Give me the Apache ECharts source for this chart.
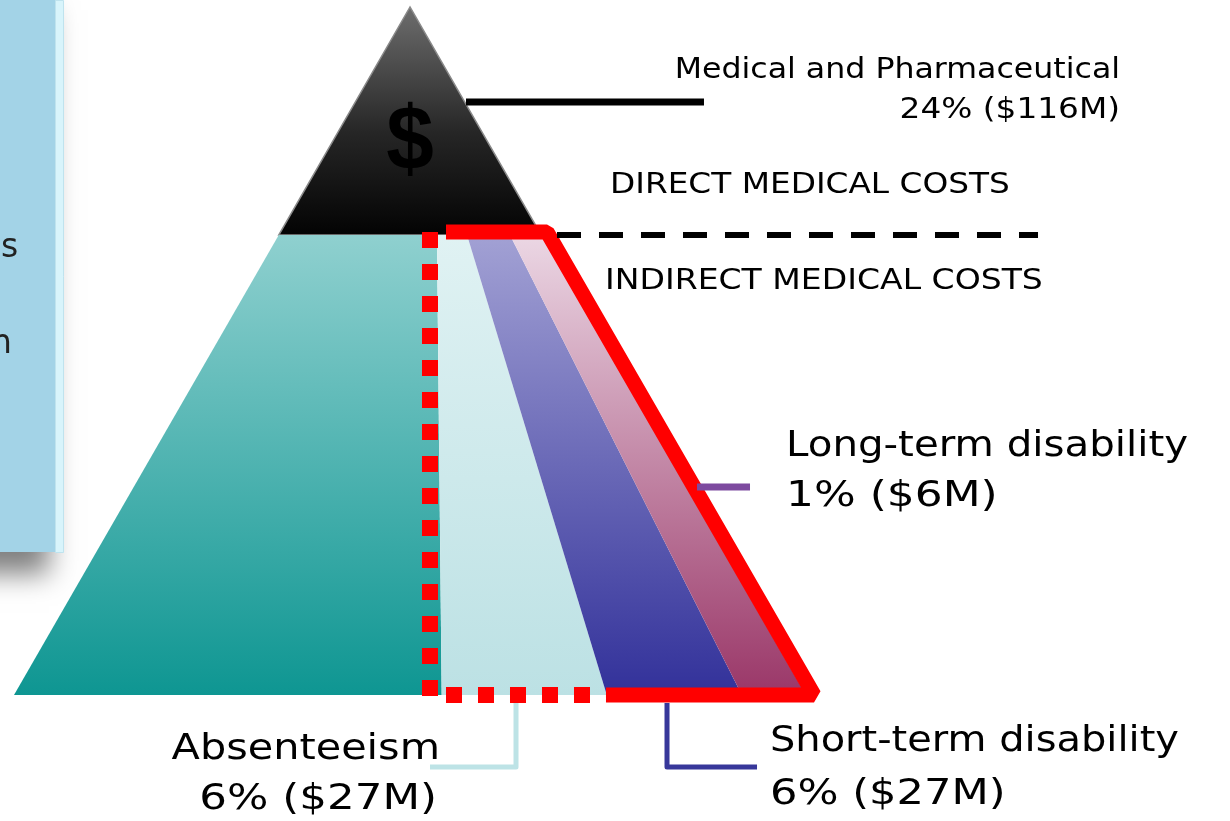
<!DOCTYPE html>
<html>
<head>
<meta charset="utf-8">
<script src="https://cdn.jsdelivr.net/npm/echarts@6/dist/echarts.min.js"></script>
<style>
html,body{margin:0;padding:0;background:#fff;}
#chart{width:1230px;height:821px;}
</style>
</head>
<body>
<div id="chart"></div>
<script>
// ---- data ----
const categories = ['Medical and Pharmaceutical', 'Long-term disability', 'Short-term disability', 'Absenteeism'];
const percents = [24, 1, 6, 6];
const amountsM = [116, 6, 27, 27];
const tierLabels = ['DIRECT MEDICAL COSTS', 'INDIRECT MEDICAL COSTS'];
const symbolText = '$';

// ---- layout (pyramid units: apex (0,1), base -1..1 at y=0) ----
const splitY = 0.6686;
const segBottom = [-1, 0.080, 0.497, 0.838, 1];
const segTop = [-0.3314, 0.068, 0.144, 0.2525, 0.3314];
const segColors = [
  ['#8fd0cf', '#0e9692'],
  ['#e0f2f3', '#bce1e4'],
  ['#a2a1d4', '#32319a'],
  ['#ebd7e4', '#9a3768']
];

function fmt(i){ return percents[i] + '% ($' + amountsM[i] + 'M)'; }

const chart = echarts.init(document.getElementById('chart'));
const FONT = '"DejaVu Sans", Verdana, sans-serif';

function renderItem(params, api) {
  const c = (x, y) => api.coord([x, y]);
  const children = [];
  // top triangle
  children.push({
    type: 'polygon',
    shape: { points: [c(0, 1), c(segTop[0], splitY), c(segTop[4], splitY)] },
    style: {
      fill: new echarts.graphic.LinearGradient(0, 0, 0, 1, [
        { offset: 0, color: '#6e6e6e' }, { offset: 0.55, color: '#262626' }, { offset: 1, color: '#030303' }
      ]),
      stroke: '#8a8a8a', lineWidth: 1.5
    }
  });
  // lower segments
  for (let i = 0; i < 4; i++) {
    children.push({
      type: 'polygon',
      shape: { points: [c(segTop[i], splitY), c(segTop[i + 1], splitY), c(segBottom[i + 1], 0), c(segBottom[i], 0)] },
      style: {
        fill: new echarts.graphic.LinearGradient(0, 0, 0, 1, [
          { offset: 0, color: segColors[i][0] }, { offset: 1, color: segColors[i][1] }
        ])
      }
    });
  }
  // dollar sign
  const dp = c(0, 0.800);
  children.push({
    type: 'text',
    x: dp[0], y: dp[1], scaleX: 0.95,
    style: {
      text: symbolText, x: 0, y: 0, align: 'center', verticalAlign: 'middle',
      font: 'bold 90px "Liberation Sans", Arial, sans-serif', fill: '#000',
      textShadowColor: '#cfcfcf', textShadowOffsetX: 4, textShadowOffsetY: 3, textShadowBlur: 0
    }
  });
  // red outlines
  children.push({
    type: 'polyline',
    shape: { points: [c(0.0909, 0.673), c(0.346, 0.673), c(1.0202, 0), c(0.4949, 0)] },
    style: { stroke: '#ff0000', lineWidth: 15, fill: null, lineJoin: 'bevel' }
  });
  children.push({
    type: 'polyline',
    shape: { points: [c(0.0505, 0.673), c(0.0505, -0.0015)] },
    style: { stroke: '#ff0000', lineWidth: 16, fill: null, lineDash: [16, 16], lineCap: 'butt' }
  });
  children.push({
    type: 'polyline',
    shape: { points: [c(0.0909, 0), c(0.4949, 0)] },
    style: { stroke: '#ff0000', lineWidth: 16, fill: null, lineDash: [16, 16], lineCap: 'butt' }
  });
  // black dashed divider
  children.push({
    type: 'polyline',
    shape: { points: [c(0.3712, splitY), c(1.5859, splitY)] },
    style: { stroke: '#000', lineWidth: 6, fill: null, lineDash: [24, 18] }
  });
  // connectors
  const conns = [
    { pts: [[0.1414, 0.8619], [0.7424, 0.8619]], color: '#000', w: 7 },
    { pts: [[0.7247, 0.3023], [0.8586, 0.3023]], color: '#7d4a9f', w: 7 },
    { pts: [[0.649, -0.0116], [0.649, -0.1047], [0.8763, -0.1047]], color: '#37379a', w: 5 },
    { pts: [[0.2677, -0.0116], [0.2677, -0.1047], [0.0505, -0.1047]], color: '#bde3e6', w: 5 }
  ];
  conns.forEach(k => children.push({
    type: 'polyline',
    shape: { points: k.pts.map(p => c(p[0], p[1])) },
    style: { stroke: k.color, lineWidth: k.w, fill: null, lineJoin: 'round' }
  }));
  // texts
  const texts = [
    { t: categories[0], x: 1.793, y: 0.9084, a: 'right', s: 29, k: 1.09 },
    { t: fmt(0), x: 1.793, y: 0.8503, a: 'right', s: 29, k: 1.13 },
    { t: tierLabels[0], x: 0.505, y: 0.7413, a: 'left', s: 29, k: 1.13 },
    { t: tierLabels[1], x: 0.4924, y: 0.6017, a: 'left', s: 29, k: 1.14 },
    { t: categories[1], x: 0.9495, y: 0.3605, a: 'left', s: 36, k: 1.12 },
    { t: fmt(1), x: 0.9495, y: 0.2878, a: 'left', s: 36, k: 1.22 },
    { t: categories[2], x: 0.909, y: -0.0683, a: 'left', s: 36, k: 1.11 },
    { t: fmt(2), x: 0.909, y: -0.1453, a: 'left', s: 36, k: 1.2 },
    { t: categories[3], x: 0.0758, y: -0.0799, a: 'right', s: 36, k: 1.15 },
    { t: fmt(3), x: 0.0682, y: -0.1526, a: 'right', s: 36, k: 1.21 }
  ];
  texts.forEach(k => {
    const p = c(k.x, k.y);
    children.push({
      type: 'text',
      x: p[0], y: p[1], scaleX: k.k,
      style: { text: k.t, x: 0, y: 0, align: k.a, verticalAlign: 'middle', font: k.s + 'px ' + FONT, fill: '#000' }
    });
  });
  return { type: 'group', children: children };
}

chart.setOption({
  animation: false,
  backgroundColor: '#fff',
  grid: { left: 14, top: 7, width: 792, height: 688, show: false },
  xAxis: { type: 'value', min: -1, max: 1, show: false },
  yAxis: { type: 'value', min: 0, max: 1, show: false },
  graphic: [
    {
      type: 'rect', left: -20, top: -12, z: 10,
      shape: { width: 83, height: 564 },
      style: { fill: '#a3d3e7', shadowColor: 'rgba(0,0,0,0.5)', shadowBlur: 26, shadowOffsetX: -14, shadowOffsetY: 22 }
    },
    {
      type: 'rect', left: 55, top: 0, z: 11,
      shape: { width: 8, height: 552 },
      style: { fill: '#d8f4fb', stroke: '#bfe3ee', lineWidth: 1 }
    },
    {
      type: 'text', left: 1, top: 232, z: 12,
      style: { text: 's', font: '33px ' + FONT, fill: '#222' }
    },
    {
      type: 'text', left: -9, top: 328, z: 12,
      style: { text: 'n', font: '33px ' + FONT, fill: '#222' }
    }
  ],
  series: [{
    type: 'custom',
    coordinateSystem: 'cartesian2d',
    clip: false,
    silent: true,
    renderItem: renderItem,
    data: [[0, 0]]
  }]
});
</script>
</body>
</html>
